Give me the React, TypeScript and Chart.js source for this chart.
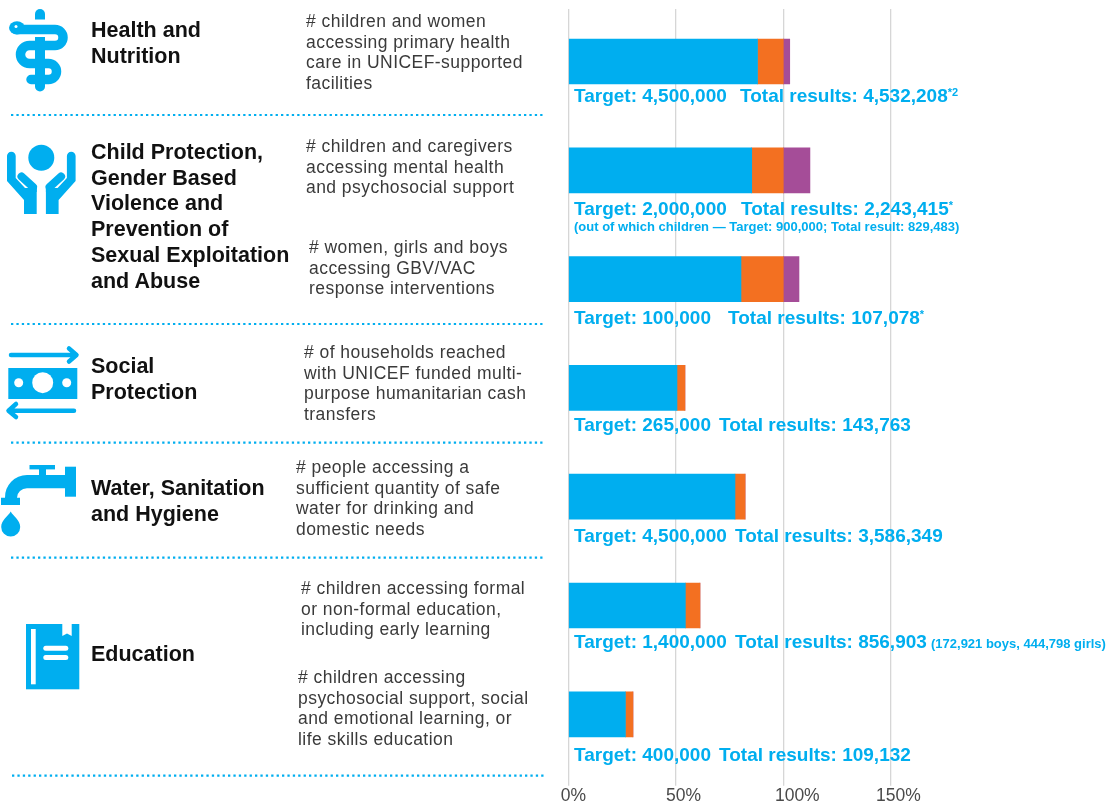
import React, { useEffect, useRef } from "react";
import { Chart, registerables } from "chart.js";

Chart.register(...registerables);

const W = 1106;
const H = 803;
const BLUE = "#00aeef";
const ORANGE = "#f37021";
const PURPLE = "#a54d98";
const GRID = "#d6d6d6";
const INK = "#111111";
const BODY = "#3a3a3a";
const FONT = '"Liberation Sans", Arial, sans-serif';

const indicators = [
  "children and women accessing primary health care",
  "children and caregivers accessing MHPSS",
  "women, girls and boys accessing GBV/VAC response",
  "households reached with cash transfers",
  "people accessing sufficient safe water",
  "children accessing formal or non-formal education",
  "children accessing psychosocial support and life skills",
];
// share of target, in %, stacked segments
const firstSegment = [88, 85.3, 80.3, 50.5, 77.5, 54.4, 26.5];
const secondSegment = [12, 14.7, 19.7, 3.7, 4.7, 6.8, 3.5];
const thirdSegment = [3, 12.4, 7.3, 0, 0, 0, 0];
const xTicks = [0, 50, 100, 150];
const xTickShift = [5, 7.7, 14, 7.7];

const headings = [
  { lines: ["Health and", "Nutrition"], top: 17 },
  { lines: ["Child Protection,", "Gender Based", "Violence and", "Prevention of", "Sexual Exploitation", "and Abuse"], top: 139 },
  { lines: ["Social", "Protection"], top: 353 },
  { lines: ["Water, Sanitation", "and Hygiene"], top: 475 },
  { lines: ["Education"], top: 641 },
];

const descriptions = [
  { lines: ["# children and women", "accessing primary health", "care in UNICEF-supported", "facilities"], left: 306, top: 11 },
  { lines: ["# children and caregivers", "accessing mental health", "and psychosocial support"], left: 306, top: 136 },
  { lines: ["# women, girls and boys", "accessing GBV/VAC", "response interventions"], left: 309, top: 237 },
  { lines: ["# of households reached", "with UNICEF funded multi-", "purpose humanitarian cash", "transfers"], left: 304, top: 342 },
  { lines: ["# people accessing a", "sufficient quantity of safe", "water for drinking and", "domestic needs"], left: 296, top: 457 },
  { lines: ["# children accessing formal", "or non-formal education,", "including early learning"], left: 301, top: 578 },
  { lines: ["# children accessing", "psychosocial support, social", "and emotional learning, or", "life skills education"], left: 298, top: 667 },
];

const results = [
  { target: "Target: 4,500,000", total: "Total results: 4,532,208", sup: "*2", y: 96, x2: 740 },
  { target: "Target: 2,000,000", total: "Total results: 2,243,415", sup: "*", y: 209, x2: 741 },
  { target: "Target: 100,000", total: "Total results: 107,078", sup: "*", y: 318, x2: 728 },
  { target: "Target: 265,000", total: "Total results: 143,763", sup: "", y: 425, x2: 719 },
  { target: "Target: 4,500,000", total: "Total results: 3,586,349", sup: "", y: 536, x2: 735 },
  { target: "Target: 1,400,000", total: "Total results: 856,903", sup: "", y: 642, x2: 735 },
  { target: "Target: 400,000", total: "Total results: 109,132", sup: "", y: 755, x2: 719 },
];

const smallNotes = [
  { text: "(out of which children — Target: 900,000; Total result: 829,483)", x: 574, y: 227 },
  { text: "(172,921 boys, 444,798 girls)", x: 931, y: 644 },
];

const separators = [115, 324, 442.7, 557.7, 775.7];

const chartTweaks = {
  id: "chartTweaks",
  afterLayout(chart: any) {
    const items = chart.scales.x.getLabelItems(chart.chartArea);
    items.forEach((it: any, i: number) => {
      it.options.translation[0] += xTickShift[i] ?? 0;
    });
  },
  beforeDatasetsDraw(chart: any) {
    const { ctx } = chart;
    ctx.save();
    ctx.fillStyle = "#ffffff";
    ctx.fillRect(0, 0, W, 9);
    ctx.restore();
  },
};

function Icons() {
  return (
    <svg width={W} height={H} style={{ position: "absolute", left: 0, top: 0 }}>
      {separators.map((y, i) => (
        <line key={i} x1={i === 4 ? 12 : 11} x2={544} y1={y} y2={y} stroke={BLUE} strokeWidth={2.2} strokeDasharray="2.3 3.1" />
      ))}
      {/* Health */}
      <g fill={BLUE}>
        <path d="M35,14 a5,5 0 0 1 10,0 V19.5 H35 Z" />
        <rect x={35} y={37} width={10} height={22} />
        <path d="M35,68 H45 V86.5 a5,5 0 0 1 -10,0 Z" />
        <path d="M16,29.5 H55 A8,8 0 0 1 55,45.5 H29.5 A9,9 0 0 0 29.5,63.5 H48.5 A8,8 0 0 1 48.5,79.5 H31" fill="none" stroke={BLUE} strokeWidth={9.5} strokeLinecap="round" />
        <ellipse cx={17} cy={27.8} rx={8} ry={6.6} />
        <circle cx={16} cy={26.5} r={1.5} fill="#fff" />
      </g>
      {/* Hands */}
      <g fill={BLUE}>
        <circle cx={41.3} cy={157.7} r={13} />
        {[0, 1].map((m) => (
          <g key={m} transform={m ? "translate(82.6,0) scale(-1,1)" : undefined}>
            <path d="M7,156 A4.35,4.35 0 0 1 15.7,156 V178 L25,188 H36.7 V214 H24 V200 L7,181 Z" />
            <line x1={21.5} y1={176.5} x2={33} y2={187} stroke={BLUE} strokeWidth={8} strokeLinecap="round" />
            <rect x={30} y={186} width={6.7} height={6} />
          </g>
        ))}
      </g>
      {/* Cash */}
      <g>
        <rect x={8.3} y={368} width={69} height={31} fill={BLUE} />
        <circle cx={42.7} cy={382.7} r={10.5} fill="#fff" />
        <circle cx={18.7} cy={382.7} r={4.5} fill="#fff" />
        <circle cx={66.7} cy={382.7} r={4.5} fill="#fff" />
        <path d="M11,355 H76 M69,348.5 L76.5,355 L69,361.5" fill="none" stroke={BLUE} strokeWidth={4.5} strokeLinecap="round" strokeLinejoin="round" />
        <path d="M74,410.7 H9 M16,404 L8.5,410.7 L16,417" fill="none" stroke={BLUE} strokeWidth={4.5} strokeLinecap="round" strokeLinejoin="round" />
      </g>
      {/* Tap */}
      <g fill={BLUE}>
        <rect x={65} y={466.7} width={11} height={30} />
        <rect x={29.5} y={465} width={25.5} height={4.4} />
        <rect x={39} y={469} width={7} height={8} />
        <path d="M65,475 H27 A22,22 0 0 0 5,497.7 H1 V505 H20 V497.7 H17 A10,9.5 0 0 1 27,488.3 H65 Z" />
        <path d="M10.7,511.5 C13,516 20.2,520 20.2,527 A9.5,9.5 0 0 1 1.2,527 C1.2,520 8.4,516 10.7,511.5 Z" />
      </g>
      {/* Book */}
      <g>
        <rect x={26} y={624} width={53.3} height={65.3} fill={BLUE} />
        <rect x={31} y={629} width={4.7} height={55.3} fill="#fff" />
        <path d="M62.3,624 H71.7 V636 L67,633.5 L62.3,636 Z" fill="#fff" />
        <rect x={43.3} y={645.7} width={25} height={5} rx={2.5} fill="#fff" />
        <rect x={43.3} y={655} width={25} height={5} rx={2.5} fill="#fff" />
      </g>
    </svg>
  );
}

const abs: React.CSSProperties = { position: "absolute", whiteSpace: "nowrap", fontFamily: FONT };

function Texts() {
  return (
    <>
      {headings.map((h, i) =>
        h.lines.map((l, j) => (
          <div key={`h${i}${j}`} style={{ ...abs, left: 91, top: h.top + j * 25.7, fontSize: 21.5, lineHeight: "26px", fontWeight: 700, color: INK }}>
            {l}
          </div>
        ))
      )}
      {descriptions.map((d, i) =>
        d.lines.map((l, j) => (
          <div key={`d${i}${j}`} style={{ ...abs, left: d.left, top: d.top + j * 20.7, fontSize: 17.5, letterSpacing: 0.45, lineHeight: "21px", color: BODY }}>
            {l}
          </div>
        ))
      )}
      {results.map((r, i) => (
        <React.Fragment key={`r${i}`}>
          <div style={{ ...abs, left: 574, top: r.y - 12, fontSize: 19, lineHeight: "24px", fontWeight: 700, color: BLUE }}>{r.target}</div>
          <div style={{ ...abs, left: r.x2, top: r.y - 12, fontSize: 19, lineHeight: "24px", fontWeight: 700, color: BLUE }}>
            {r.total}
            {r.sup && <span style={{ fontSize: 11, position: "relative", top: -6 }}>{r.sup}</span>}
          </div>
        </React.Fragment>
      ))}
      {smallNotes.map((n, i) => (
        <div key={`n${i}`} style={{ ...abs, left: n.x, top: n.y - 8, fontSize: 13, lineHeight: "16px", fontWeight: 700, color: BLUE }}>
          {n.text}
        </div>
      ))}
    </>
  );
}

export default function App() {
  const ref = useRef<HTMLCanvasElement>(null);
  useEffect(() => {
    const chart = new Chart(ref.current as HTMLCanvasElement, {
      type: "bar",
      data: {
        labels: indicators,
        datasets: [
          { label: "Achieved", data: firstSegment, backgroundColor: BLUE, barThickness: 45 },
          { label: "Second", data: secondSegment, backgroundColor: ORANGE, barThickness: 45 },
          { label: "Third", data: thirdSegment, backgroundColor: PURPLE, barThickness: 45 },
        ],
      },
      options: {
        indexAxis: "y",
        animation: false,
        responsive: false,
        layout: { padding: { left: 568.5, right: 215.3, top: 7.1, bottom: 0 } },
        plugins: { legend: { display: false }, tooltip: { enabled: false } },
        scales: {
          x: {
            type: "linear",
            stacked: true,
            min: 0,
            max: 150,
            afterFit: (s: any) => {
              s.height = 34.3;
            },
            afterBuildTicks: (s: any) => {
              s.ticks = xTicks.map((value) => ({ value }));
            },
            grid: { color: GRID, tickColor: GRID, lineWidth: 1.3, tickLength: 17 },
            border: { display: false },
            ticks: {
              autoSkip: false,
              maxRotation: 0,
              padding: 0,
              color: "#4a4a4a",
              font: { family: FONT, size: 17.5 },
              callback: (v: any) => `${v}%`,
            },
          },
          y: { stacked: true, display: false },
        },
      },
      plugins: [chartTweaks],
    } as any);
    return () => chart.destroy();
  }, []);
  return (
    <div style={{ position: "absolute", left: 0, top: 0, width: W, height: H, background: "#fff", overflow: "hidden" }}>
      <canvas ref={ref} width={W} height={H} style={{ position: "absolute", left: 0, top: 0, width: W, height: H }} />
      <Icons />
      <Texts />
    </div>
  );
}
